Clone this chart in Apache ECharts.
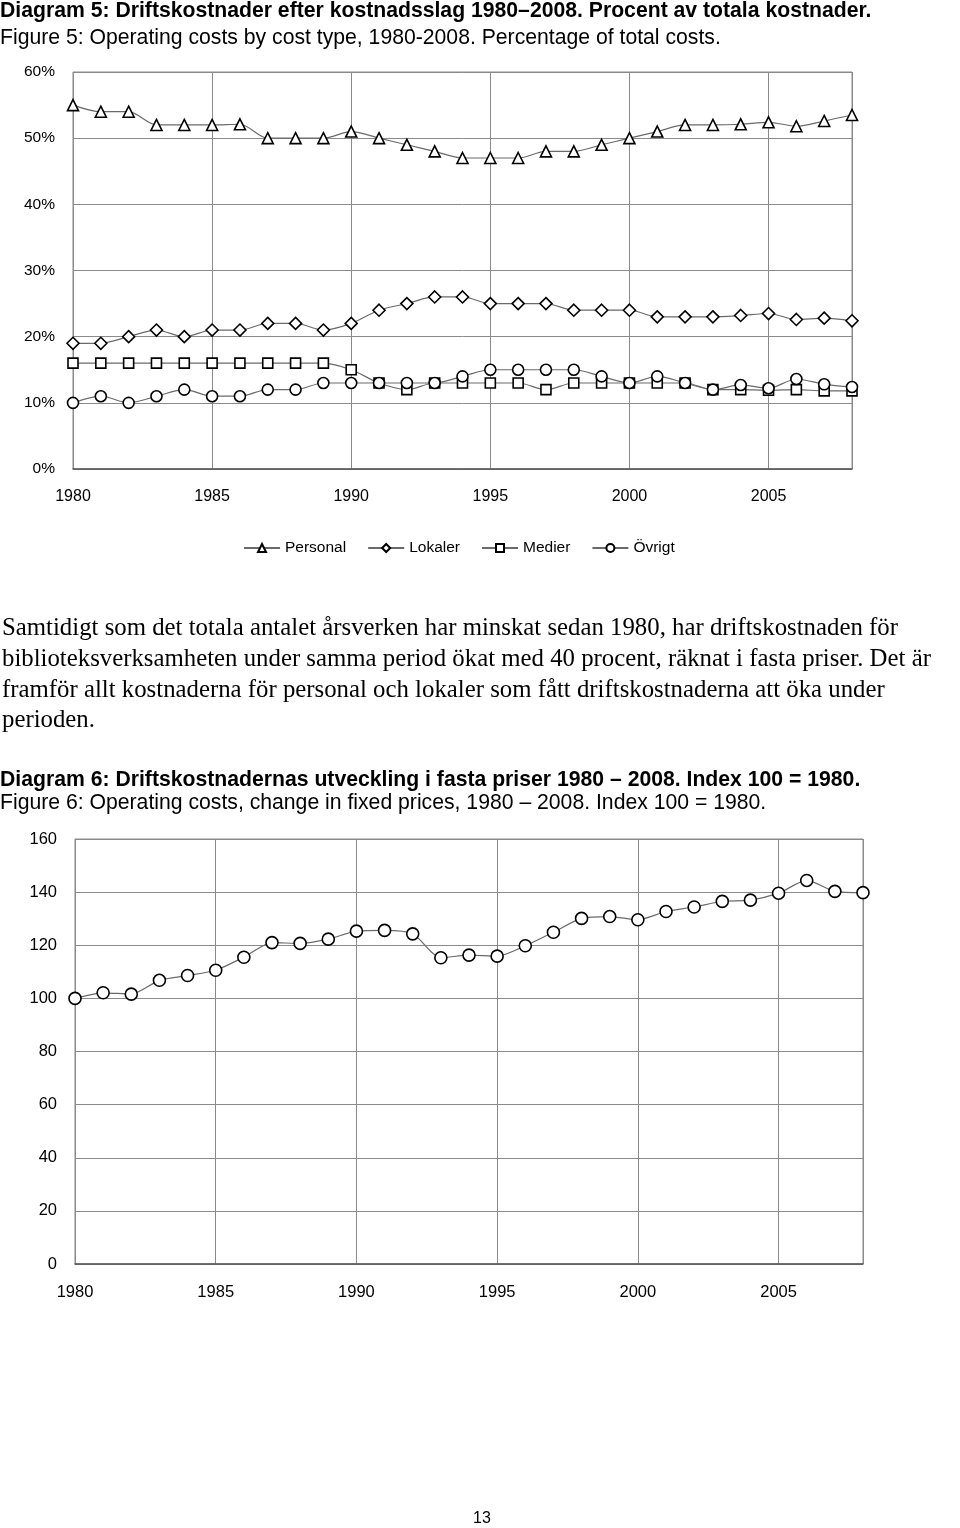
<!DOCTYPE html>
<html>
<head>
<meta charset="utf-8">
<script src="https://cdn.jsdelivr.net/npm/echarts@6/dist/echarts.min.js"></script>
<style>
  html, body { margin: 0; padding: 0; background: #fff; }
  #chart { width: 960px; height: 1528px; }
</style>
</head>
<body>
<div id="chart"></div>
<script>
// ---- Data ----
const years = [1980,1981,1982,1983,1984,1985,1986,1987,1988,1989,1990,1991,1992,1993,1994,1995,1996,1997,1998,1999,2000,2001,2002,2003,2004,2005,2006,2007,2008];
const seriesNames = ['Personal', 'Lokaler', 'Medier', 'Övrigt'];
const personal = [55,54,54,52,52,52,52.1,50,50,50,51,50,49,48,47,47,47,48,48,49,50,51,52,52,52.1,52.4,51.8,52.6,53.5];
const lokaler  = [19,19,20,21,20,21,21,22,22,21,22,24,25,26,26,25,25,25,24,24,24,23,23,23,23.2,23.5,22.6,22.8,22.4];
const medier   = [16,16,16,16,16,16,16,16,16,16,15,13,12,13,13,13,13,12,13,13,13,13,13,12,12,11.9,12,11.8,11.8];
const ovrigt   = [10,11,10,11,12,11,11,12,12,13,13,13,13,13,14,15,15,15,15,14,13,14,13,12,12.7,12.2,13.6,12.8,12.4];
const indexValues = [100,102.1,101.6,106.8,108.6,110.6,115.5,121,120.7,122.3,125.3,125.6,124.3,115.3,116.3,115.9,119.8,124.9,130.1,130.8,129.6,132.7,134.4,136.5,137,139.6,144.4,140.3,139.8];

const title5a = 'Diagram 5: Driftskostnader efter kostnadsslag 1980–2008. Procent av totala kostnader.';
const title5b = 'Figure 5: Operating costs by cost type, 1980-2008. Percentage of total costs.';
const paragraphLines = [
  'Samtidigt som det totala antalet årsverken har minskat sedan 1980, har driftskostnaden för',
  'biblioteksverksamheten under samma period ökat med 40 procent, räknat i fasta priser. Det är',
  'framför allt kostnaderna för personal och lokaler som fått driftskostnaderna att öka under',
  'perioden.'
];
const title6a = 'Diagram 6: Driftskostnadernas utveckling i fasta priser 1980 – 2008. Index 100 = 1980.';
const title6b = 'Figure 6: Operating costs, change in fixed prices, 1980 – 2008. Index 100 = 1980.';
const pageNumber = '13';

// ---- Styles ----
const SANS = '"Liberation Sans", Arial, sans-serif';
const SERIF = '"Liberation Serif", "Times New Roman", serif';
const gridColor = '#8a8a8a';
const lineColor = '#6a6a6a';

const pairs = arr => arr.map((v, i) => [years[i], v]);

function xAxisFor(gridIndex, fs) {
  return {
    type: 'value', gridIndex, min: 1980, max: 2008, interval: 5,
    axisLine: { show: true, onZero: false, lineStyle: { color: '#555', width: 1.5 } },
    axisTick: { show: false },
    axisLabel: { color: '#000', fontFamily: SANS, fontSize: fs, margin: 20, showMaxLabel: false, formatter: v => String(v) },
    splitLine: { show: true, lineStyle: { color: gridColor, width: 1 } }
  };
}

function lineSeries(name, data, symbol, size, xi, yi) {
  return {
    name, type: 'line', xAxisIndex: xi, yAxisIndex: yi,
    data: pairs(data), smooth: 0.3,
    symbol, symbolSize: size, showAllSymbol: true,
    lineStyle: { color: lineColor, width: 1.2 },
    itemStyle: { color: '#fff', borderColor: '#000', borderWidth: 1.6 },
    emphasis: { disabled: true },
    animation: false
  };
}

const chart = echarts.init(document.getElementById('chart'), null, { renderer: 'canvas' });

const titleStyle = (bold, size) => ({ fontFamily: SANS, fontSize: size, fontWeight: bold ? 'bold' : 'normal', color: '#000' });

chart.setOption({
  backgroundColor: '#fff',
  animation: false,
  title: [
    { text: title5a, left: 0, top: 1, padding: 0, textStyle: titleStyle(true, 21.2) },
    { text: title5b, left: 0, top: 28, padding: 0, textStyle: titleStyle(false, 21.2) },
    { text: paragraphLines.join('\n'), left: 2, top: 613, padding: 0, textStyle: { fontFamily: SERIF, fontSize: 24.8, fontWeight: 'normal', color: '#000', lineHeight: 30.8 } },
    { text: title6a, left: 0, top: 770, padding: 0, textStyle: titleStyle(true, 21.2) },
    { text: title6b, left: 0, top: 793, padding: 0, textStyle: titleStyle(false, 21.2) },
    { text: pageNumber, left: 473, top: 1511, padding: 0, textStyle: titleStyle(false, 16) }
  ],
  legend: {
    data: seriesNames, top: 535, left: 238, itemGap: 21, itemWidth: 36, itemHeight: 10,
    textStyle: { fontFamily: SANS, fontSize: 15.5, color: '#000' },
    selectedMode: false
  },
  grid: [
    { left: 73, top: 72, width: 779, height: 397, show: true, borderColor: gridColor, borderWidth: 1, backgroundColor: 'transparent' },
    { left: 75, top: 839, width: 788, height: 425, show: true, borderColor: gridColor, borderWidth: 1, backgroundColor: 'transparent' }
  ],
  xAxis: [xAxisFor(0, 16), xAxisFor(1, 16.5)],
  yAxis: [
    {
      type: 'value', gridIndex: 0, min: 0, max: 60, interval: 10,
      axisLine: { show: false }, axisTick: { show: false },
      axisLabel: { color: '#000', fontFamily: SANS, fontSize: 15.5, margin: 18, formatter: '{value}%' },
      splitLine: { show: true, lineStyle: { color: gridColor, width: 1 } }
    },
    {
      type: 'value', gridIndex: 1, min: 0, max: 160, interval: 20,
      axisLine: { show: false }, axisTick: { show: false },
      axisLabel: { color: '#000', fontFamily: SANS, fontSize: 16.5, margin: 18 },
      splitLine: { show: true, lineStyle: { color: gridColor, width: 1 } }
    }
  ],
  series: [
    lineSeries(seriesNames[0], personal, 'triangle', 11, 0, 0),
    lineSeries(seriesNames[1], lokaler, 'diamond', 12, 0, 0),
    lineSeries(seriesNames[2], medier, 'rect', 10, 0, 0),
    lineSeries(seriesNames[3], ovrigt, 'circle', 11, 0, 0),
    Object.assign(lineSeries('Index', indexValues, 'circle', 12, 1, 1), { smooth: 0.25 })
  ]
});
</script>
</body>
</html>
